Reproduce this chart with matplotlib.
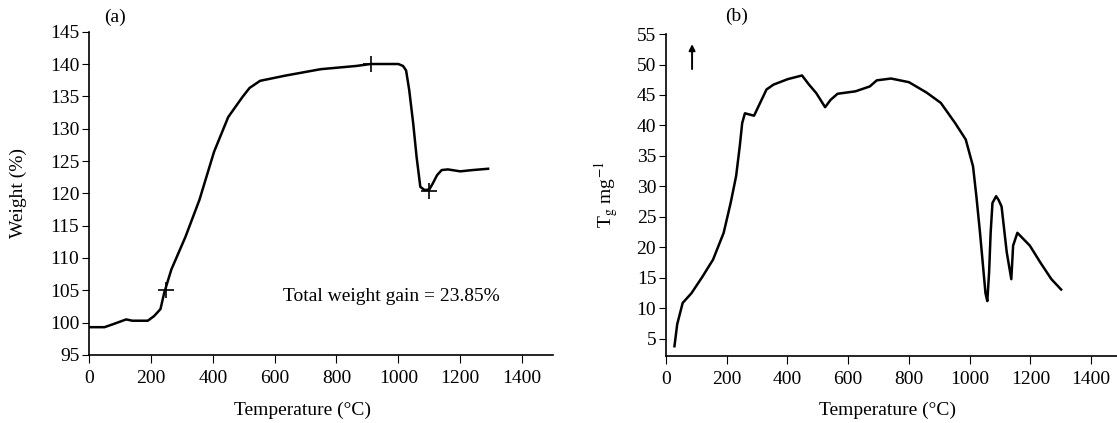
import numpy as np
import matplotlib.pyplot as plt

# Set graph parameters.
plt.rcParams['font.family'] = 'Liberation Serif'
plt.rcParams['mathtext.fontset'] = 'stix'
plt.rcParams['font.size'] = 14
plt.rcParams['xtick.labelsize'] = 14
plt.rcParams['ytick.labelsize'] = 14
plt.rcParams['xtick.direction'] = 'out'
plt.rcParams['ytick.direction'] = 'out'
plt.rcParams['xtick.major.size'] = 5.5
plt.rcParams['ytick.major.size'] = 5
plt.rcParams['xtick.major.pad'] = 5
plt.rcParams['ytick.major.pad'] = 2
plt.rcParams['axes.linewidth'] = 1.2

# (a) weight curve
temp_a = [0, 50, 80, 120, 140, 190, 210, 231, 243, 266, 312, 357, 404, 450, 496, 519,
          553, 634, 749, 864, 910, 1000, 1015, 1025, 1035, 1048, 1059, 1071, 1085, 1100,
          1111, 1125, 1140, 1160, 1200, 1240, 1290]
weight_a = [99.3, 99.3, 99.8, 100.5, 100.3, 100.3, 101.0, 102.1, 104.6, 108.2, 113.3, 119.0,
            126.4, 131.8, 134.9, 136.3, 137.4, 138.2, 139.2, 139.7, 140.0, 140.0, 139.7, 139.0,
            136.0, 130.8, 125.6, 121.0, 120.5, 120.6, 121.5, 122.8, 123.6, 123.7, 123.4,
            123.6, 123.8]
mark_t = [250, 910, 1100]
mark_w = [105.0, 140.0, 120.3]

# (b) Tg curve
temp_b = [28, 30, 37, 55, 84, 120, 155, 190, 213, 231, 243, 251, 260, 290, 331, 354, 401,
          448, 471, 495, 524, 542, 565, 624, 671, 694, 741, 800, 858, 905, 952, 987, 1011,
          1022, 1034, 1046, 1052, 1058, 1064, 1069, 1075, 1087, 1095, 1105, 1122, 1137,
          1143, 1157, 1198, 1233, 1269, 1301]
tg_b = [3.8, 4.6, 7.4, 10.9, 12.5, 15.2, 18.0, 22.4, 27.3, 31.7, 36.6, 40.4, 42.0, 41.6,
        45.9, 46.7, 47.6, 48.2, 46.7, 45.3, 43.0, 44.2, 45.2, 45.6, 46.4, 47.4, 47.7, 47.1,
        45.4, 43.7, 40.4, 37.7, 33.3, 28.4, 22.4, 15.8, 12.5, 11.2, 16.0, 22.4, 27.3, 28.4,
        27.8, 26.7, 19.2, 14.8, 20.3, 22.4, 20.3, 17.5, 14.8, 13.1]

fig = plt.figure(figsize=(11.17, 4.23), dpi=100)

# Panel (a).
ax1 = fig.add_axes([0.0797, 0.1608, 0.4154, 0.7643])
ax1.plot(temp_a, weight_a, color='black', lw=1.8)
ax1.plot(mark_t, mark_w, linestyle='none', marker='+', color='black', markersize=11, mew=1.2)
ax1.set_xlim(0, 1500)
ax1.set_ylim(95, 145)
ax1.set_xticks(np.arange(0, 1401, 200))
ax1.set_yticks(np.arange(95, 146, 5))
ax1.spines['top'].set_visible(False)
ax1.spines['right'].set_visible(False)
ax1.set_xlabel('Temperature (°C)')
ax1.set_ylabel('Weight (%)')
ax1.xaxis.set_label_coords(0.461, -0.145)
ax1.yaxis.set_label_coords(-0.134, 0.5)
ax1.text(627, 104, 'Total weight gain = 23.85%', ha='left', va='center', fontsize=14)
ax1.text(0.057, 1.045, '(a)', transform=ax1.transAxes, ha='center', va='center', fontsize=14)

# Panel (b).
ax2 = fig.add_axes([0.5962, 0.1584, 0.4038, 0.7612])
ax2.plot(temp_b, tg_b, color='black', lw=1.8)
ax2.annotate('', xy=(86, 53.8), xytext=(86, 48.8),
             arrowprops=dict(arrowstyle='-|>', color='black', lw=1.4, mutation_scale=9))
ax2.set_xlim(0, 1485)
ax2.set_ylim(2.2, 55)
ax2.set_xticks(np.arange(0, 1401, 200))
ax2.set_yticks(np.arange(5, 56, 5))
ax2.spines['top'].set_visible(False)
ax2.spines['right'].set_visible(False)
ax2.set_xlabel('Temperature (°C)')
ax2.set_ylabel(r'T$_{\rm g}$ mg$^{-1}$')
ax2.xaxis.set_label_coords(0.492, -0.143)
ax2.yaxis.set_label_coords(-0.102, 0.5)
ax2.text(0.157, 1.055, '(b)', transform=ax2.transAxes, ha='center', va='center', fontsize=14)

fig.savefig('out.png', dpi=100)
plt.close()
